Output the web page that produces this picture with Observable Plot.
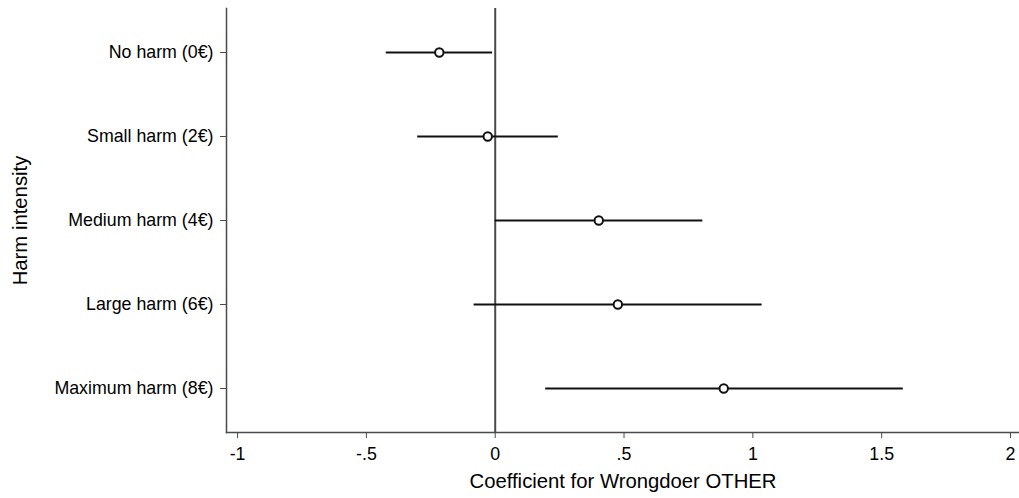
<!DOCTYPE html>
<html>
<head>
<meta charset="utf-8">
<script src="https://cdn.jsdelivr.net/npm/d3@7"></script>
<script src="https://cdn.jsdelivr.net/npm/@observablehq/plot@0.6"></script>
<style>
  html, body { margin: 0; padding: 0; background: #fff; }
  #chart svg { display: block; }
</style>
</head>
<body>
<div id="chart"></div>
<script>
const categories = ["No harm (0€)", "Small harm (2€)", "Medium harm (4€)", "Large harm (6€)", "Maximum harm (8€)"];
const coef   = [-0.217, -0.029, 0.402, 0.476, 0.887];
const ciLow  = [-0.423, -0.301, 0.000, -0.082, 0.196];
const ciHigh = [-0.010, 0.245, 0.806, 1.036, 1.584];
const xTicks = [-1, -0.5, 0, 0.5, 1, 1.5, 2];
const xTickLabels = ["-1", "-.5", "0", ".5", "1", "1.5", "2"];
const xTitle = "Coefficient for Wrongdoer OTHER";
const yTitle = "Harm intensity";

const data = categories.map((c, i) => ({cat: c, coef: coef[i], lo: ciLow[i], hi: ciHigh[i]}));
const fmt = new Map(xTicks.map((t, i) => [t, xTickLabels[i]]));

const axisColor = "#4a4a4a";
const font = "'Liberation Sans', Arial, sans-serif";

const chart = Plot.plot({
  width: 1019,
  height: 498,
  marginLeft: 226,
  marginRight: 0,
  marginTop: 8,
  marginBottom: 66,
  style: {fontFamily: font, fontSize: "17.8px", color: "#000", background: "#fff"},
  x: {domain: [-1.043, 2.035]},
  y: {type: "point", domain: categories, padding: 0.5},
  marks: [
    Plot.frame({anchor: "left", stroke: axisColor, strokeWidth: 1.5}),
    Plot.frame({anchor: "bottom", stroke: axisColor, strokeWidth: 1.5}),
    Plot.ruleX([0], {stroke: axisColor, strokeWidth: 2}),
    Plot.axisY({tickSize: 6, tickPadding: 7, label: null, stroke: axisColor, fontSize: 17.8}),
    Plot.axisX({ticks: xTicks, tickFormat: d => fmt.get(d), tickSize: 6, tickPadding: 9, label: null, stroke: axisColor, fontSize: 17.8}),
    Plot.ruleY(data, {y: "cat", x1: "lo", x2: "hi", stroke: "#111", strokeWidth: 2}),
    Plot.dot(data, {x: "coef", y: "cat", r: 4.2, stroke: "#111", strokeWidth: 2, fill: "white"}),
    Plot.text([xTitle], {text: d => d, frameAnchor: "bottom", dy: 49, lineAnchor: "middle", fontSize: 20.3, fill: "#000"}),
    Plot.text([yTitle], {text: d => d, frameAnchor: "left", dx: -206, rotate: -90, textAnchor: "middle", lineAnchor: "middle", fontSize: 20.3, fill: "#000"})
  ]
});
document.getElementById("chart").appendChild(chart);
</script>
</body>
</html>
